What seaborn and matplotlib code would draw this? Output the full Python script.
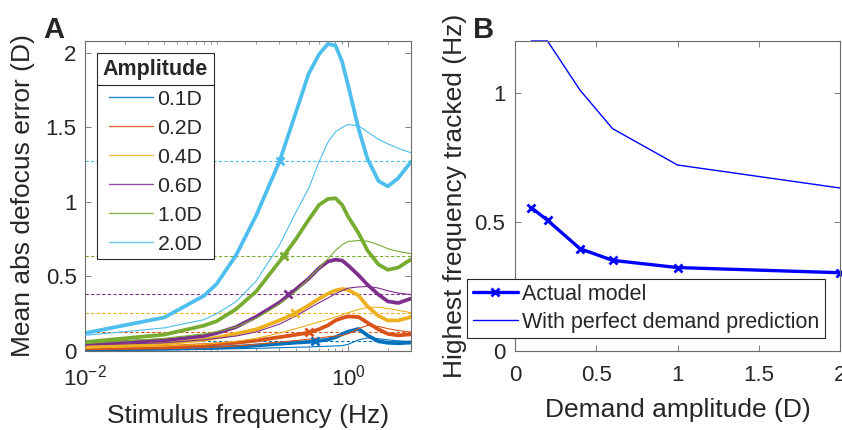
import numpy as np
import matplotlib
matplotlib.use("Agg")
import matplotlib.pyplot as plt
import seaborn as sns
from matplotlib.lines import Line2D
from matplotlib.ticker import FixedLocator, LogLocator, NullFormatter, LogFormatterSciNotation

# Panel A: defocus error vs stimulus frequency, one pair of curves per amplitude
amp_labels = ['0.1D', '0.2D', '0.4D', '0.6D', '1.0D', '2.0D']
amp_colors = ['#0072BD', '#D95319', '#EDB120', '#7E2F8E', '#77AC30', '#4DBEEE']

freq = [0.01, 0.04, 0.08, 0.1, 0.14, 0.2, 0.3, 0.4, 0.5, 0.6, 0.7, 0.8, 0.9, 1.0,
        1.2, 1.4, 1.7, 2.0, 2.4, 3.0]

# actual model (thick lines)
model_01 = [0.01, 0.015, 0.02, 0.023, 0.028, 0.037, 0.048, 0.056, 0.061, 0.068, 0.077,
            0.092, 0.113, 0.13, 0.148, 0.105, 0.065, 0.055, 0.052, 0.057]
model_02 = [0.016, 0.027, 0.04, 0.045, 0.055, 0.07, 0.093, 0.109, 0.123, 0.146, 0.172,
            0.205, 0.222, 0.232, 0.228, 0.19, 0.145, 0.115, 0.105, 0.112]
model_04 = [0.027, 0.05, 0.075, 0.09, 0.115, 0.145, 0.205, 0.255, 0.306, 0.351, 0.384,
            0.406, 0.416, 0.41, 0.372, 0.30, 0.235, 0.205, 0.205, 0.228]
model_06 = [0.05, 0.072, 0.10, 0.12, 0.16, 0.23, 0.325, 0.414, 0.485, 0.556, 0.60,
            0.613, 0.607, 0.574, 0.508, 0.445, 0.378, 0.333, 0.322, 0.352]
model_10 = [0.06, 0.11, 0.17, 0.20, 0.28, 0.40, 0.60, 0.75, 0.88, 0.98, 1.02,
            1.025, 0.98, 0.90, 0.79, 0.675, 0.58, 0.545, 0.56, 0.615]
model_20 = [0.12, 0.225, 0.37, 0.45, 0.64, 0.91, 1.27, 1.60, 1.86, 1.99, 2.06,
            2.05, 1.94, 1.78, 1.49, 1.29, 1.14, 1.105, 1.16, 1.27]

# with perfect demand prediction (thin lines)
perfect_01 = [0.005, 0.008, 0.011, 0.013, 0.015, 0.018, 0.022, 0.025, 0.027, 0.03, 0.032,
              0.034, 0.036, 0.045, 0.075, 0.088, 0.082, 0.075, 0.068, 0.063]
perfect_02 = [0.01, 0.015, 0.022, 0.026, 0.033, 0.045, 0.06, 0.07, 0.08, 0.088, 0.095,
              0.10, 0.105, 0.115, 0.15, 0.172, 0.165, 0.15, 0.137, 0.127]
perfect_04 = [0.02, 0.033, 0.045, 0.052, 0.065, 0.085, 0.12, 0.15, 0.175, 0.195, 0.212,
              0.228, 0.243, 0.257, 0.279, 0.292, 0.294, 0.285, 0.273, 0.257]
perfect_06 = [0.04, 0.055, 0.075, 0.085, 0.10, 0.128, 0.18, 0.235, 0.284, 0.324, 0.355,
              0.384, 0.405, 0.422, 0.43, 0.433, 0.422, 0.404, 0.389, 0.378]
perfect_10 = [0.05, 0.085, 0.115, 0.13, 0.16, 0.22, 0.315, 0.40, 0.485, 0.556, 0.618,
              0.674, 0.713, 0.735, 0.741, 0.737, 0.713, 0.686, 0.668, 0.653]
perfect_20 = [0.105, 0.155, 0.21, 0.25, 0.33, 0.47, 0.71, 0.93, 1.09, 1.27, 1.40,
              1.47, 1.50, 1.52, 1.51, 1.47, 1.42, 1.39, 1.36, 1.33]

model_curves = [model_01, model_02, model_04, model_06, model_10, model_20]
perfect_curves = [perfect_01, perfect_02, perfect_04, perfect_06, perfect_10, perfect_20]

# mean abs demand (dashed levels)
mean_abs_demand = [0.064, 0.127, 0.255, 0.382, 0.637, 1.273]

# Panel B: highest frequency tracked
demand_amp = [0.1, 0.2, 0.4, 0.6, 1.0, 2.0]
tracked_actual = [0.555, 0.506, 0.396, 0.351, 0.323, 0.303]
tracked_perfect = [1.2, 1.2, 1.01, 0.861, 0.72, 0.631]

sns.set_theme(style="ticks")
plt.rcParams['font.family'] = ['Liberation Sans', 'DejaVu Sans']
plt.rcParams.update({
    'xtick.direction': 'in', 'ytick.direction': 'in',
    'xtick.top': True, 'ytick.right': True,
    'axes.edgecolor': '#6b6b6b', 'axes.linewidth': 0.8,
    'xtick.color': '#6b6b6b', 'ytick.color': '#6b6b6b',
    'xtick.labelcolor': '#262626', 'ytick.labelcolor': '#262626',
    'xtick.major.size': 4, 'ytick.major.size': 4,
    'xtick.minor.size': 2, 'ytick.minor.size': 2,
    'xtick.major.width': 0.6, 'ytick.major.width': 0.6,
    'xtick.minor.width': 0.5,
    'xtick.labelsize': 16, 'ytick.labelsize': 16,
    'axes.labelsize': 19, 'axes.labelcolor': '#262626',
    'lines.solid_joinstyle': 'round', 'lines.solid_capstyle': 'round',
})

fig = plt.figure(figsize=(8.42, 4.30), dpi=100)
axA = fig.add_axes([85 / 842, 79 / 430, 326 / 842, 310 / 430])
axB = fig.add_axes([515 / 842, 79 / 430, 325 / 842, 310 / 430])

# ---- Panel A ----
for c, lvl in zip(amp_colors, mean_abs_demand):
    axA.axhline(lvl, color=c, lw=0.8, ls=(0, (3, 2)), zorder=1)

handles = []
for c, lab, m, p, fx, lvl in zip(amp_colors, amp_labels, model_curves, perfect_curves,
                                 tracked_actual, mean_abs_demand):
    sns.lineplot(x=freq, y=m, ax=axA, color=c, lw=2.7, legend=False, zorder=2)
    sns.lineplot(x=freq, y=p, ax=axA, color=c, lw=0.8, legend=False, zorder=3)
    axA.plot(fx, lvl, marker='x', ms=6, mew=2, color=c, zorder=4)
    handles.append(Line2D([], [], color=c, lw=1.0, alpha=0.85, label=lab))

axA.set_xscale('log')
axA.set_xlim(0.01, 3.0)
axA.set_ylim(0, 2.08)
axA.xaxis.set_major_locator(FixedLocator([0.01, 1]))
axA.xaxis.set_major_formatter(LogFormatterSciNotation())
axA.xaxis.set_minor_locator(LogLocator(base=10, subs=np.arange(1, 10) * 1.0, numticks=20))
axA.xaxis.set_minor_formatter(NullFormatter())
axA.set_yticks([0, 0.5, 1, 1.5, 2])
axA.set_yticklabels(['0', '0.5', '1', '1.5', '2'])
axA.tick_params(axis='x', pad=10)
axA.tick_params(axis='y', pad=6)
axA.set_xlabel('Stimulus frequency (Hz)', va='top')
axA.set_ylabel('Mean abs defocus error (D)', va='bottom')
axA.xaxis.set_label_coords(0.5, -0.17)
axA.yaxis.set_label_coords(-0.153, 0.5)

legA = axA.legend(handles=handles, title='Amplitude', loc='upper left',
                  bbox_to_anchor=(97.3 / 842, 1 - 53.3 / 430), bbox_transform=fig.transFigure,
                  borderaxespad=0, fontsize=15.3, title_fontproperties={'weight': 'bold', 'size': 15.5},
                  frameon=True, fancybox=False, framealpha=1, edgecolor='#262626',
                  labelspacing=0.47, handlelength=2.1, handletextpad=0.2, borderpad=0.26,
                  alignment='center')
legA.get_frame().set_linewidth(0.8)

# ---- Panel B ----
sns.lineplot(x=demand_amp, y=tracked_perfect, ax=axB, color='#0000FF', lw=1.0,
             legend=False, clip_on=False)
sns.lineplot(x=demand_amp, y=tracked_actual, ax=axB, color='#0000FF', lw=2.4,
             marker='x', ms=6, mew=2, markeredgecolor='#0000FF', legend=False, clip_on=False)
axB.set_xlim(0, 2)
axB.set_ylim(0, 1.2)
axB.set_xticks([0, 0.5, 1, 1.5, 2])
axB.set_xticklabels(['0', '0.5', '1', '1.5', '2'])
axB.set_yticks([0, 0.5, 1])
axB.set_yticklabels(['0', '0.5', '1'])
axB.tick_params(axis='x', pad=10)
axB.tick_params(axis='y', pad=7)
axB.set_xlabel('Demand amplitude (D)', va='top')
axB.set_ylabel('Highest frequency tracked (Hz)', va='bottom')
axB.xaxis.set_label_coords(0.5, -0.152)
axB.yaxis.set_label_coords(-0.148, 0.5)

hB = [Line2D([], [], color='#0000FF', lw=2.4, marker='x', ms=6, mew=2, label='Actual model'),
      Line2D([], [], color='#0000FF', lw=1.0, label='With perfect demand prediction')]
legB = axB.legend(handles=hB, loc='lower left', bbox_to_anchor=(467.3 / 842, 1 - 338.3 / 430),
                  bbox_transform=fig.transFigure, borderaxespad=0, fontsize=15.5,
                  frameon=True, fancybox=False, framealpha=1, edgecolor='#262626',
                  labelspacing=0.32, handlelength=2.1, handletextpad=0.2, borderpad=0.25,
                  numpoints=1)
legB.get_frame().set_linewidth(0.8)
legB.set_zorder(10)

fig.text(43.3 / 842, 1 - 38.3 / 430, 'A', fontsize=21, fontweight='bold', va='baseline')
fig.text(473 / 842, 1 - 38.3 / 430, 'B', fontsize=21, fontweight='bold', va='baseline')

# separator line below the legend title (MATLAB style)
fig.canvas.draw()
renderer = fig.canvas.get_renderer()
fb = legA.get_frame().get_window_extent(renderer)
tb = legA.get_title().get_window_extent(renderer)
eb = legA.get_texts()[0].get_window_extent(renderer)
ysep = (tb.y0 + eb.y1) / 2
inv = fig.transFigure.inverted()
(x0, y0), (x1, _) = inv.transform([(fb.x0, ysep), (fb.x1, ysep)])
fig.add_artist(Line2D([x0, x1], [y0, y0], color='#262626', lw=0.8, zorder=20))

fig.savefig('out.png', dpi=100)
